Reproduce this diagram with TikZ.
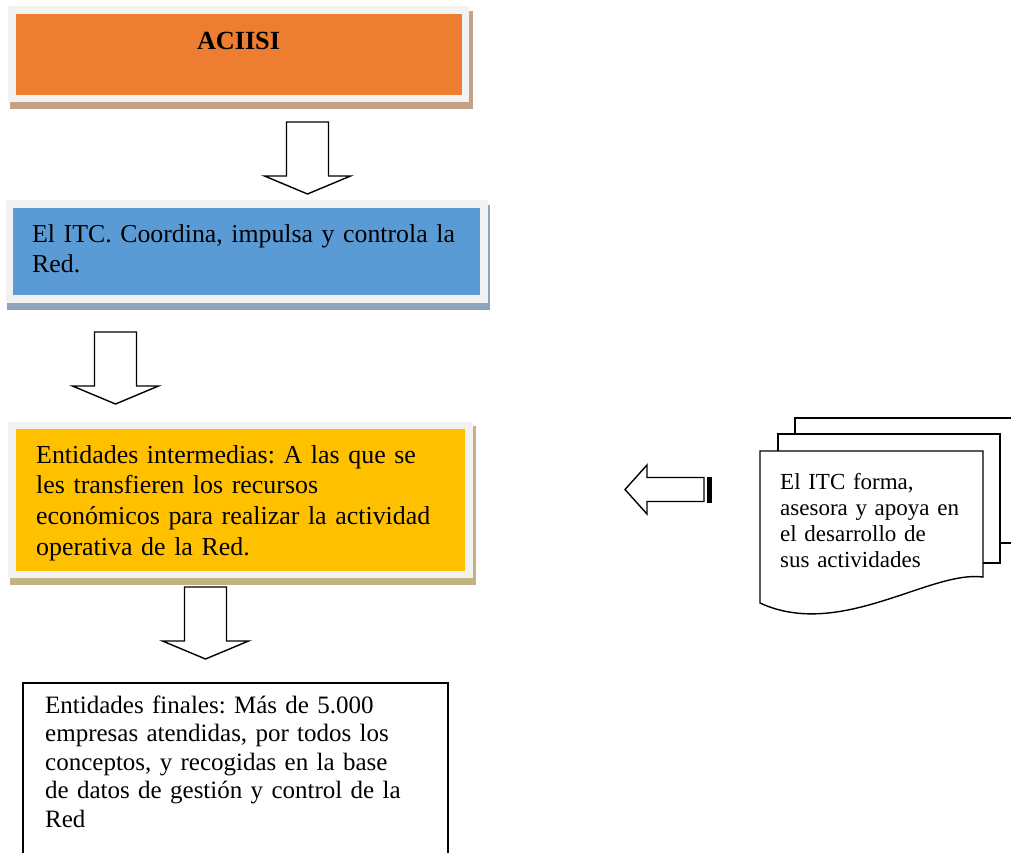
\documentclass[tikz,border=0pt]{standalone}
\usepackage{fontspec}
\setmainfont{Liberation Serif}
\frenchspacing
\definecolor{aorange}{HTML}{ED7D31}
\definecolor{ablue}{HTML}{5B9BD5}
\definecolor{ayellow}{HTML}{FFC000}
\definecolor{aframe}{HTML}{F2F2F2}
\definecolor{shbrown}{HTML}{C4A189}
\definecolor{shblue}{HTML}{8EA4BC}
\definecolor{shtan}{HTML}{C3B283}
\begin{document}
\begin{tikzpicture}[x=1pt,y=-1pt,
  panel/.style={draw=aframe, line width=7.5pt, inner sep=0pt, outer sep=0pt},
  shadowbox/.style={inner sep=0pt, outer sep=0pt},
  plainbox/.style={draw=black, line width=1.4pt, fill=white, inner sep=0pt},
  blockline/.style={draw=black, line width=1.4pt, fill=white, line join=miter},
  boxtext/.style={anchor=base west, inner sep=0pt, text width=#1, align=left},
  pagestyle/.style={draw=black, line width=1.4pt, fill=white, line join=miter},
  downblock/.pic={\draw[blockline] (-21,0) -- (-21,54) -- (-43,54) -- (0,72) -- (43,54) -- (21,54) -- (21,0) -- cycle;}
]
\useasboundingbox (0,0) rectangle (1011,852);
\clip (0,0) rectangle (1011,852);
\fill[white] (0,0) rectangle (1011,852);

% ACIISI
\node[shadowbox, fill=shbrown, minimum width=463pt, minimum height=98pt] (aciisi-sh) at (241.5,60) {};
\node[panel, fill=aorange, minimum width=453.5pt, minimum height=88.5pt] (aciisi) at (238.75,54.25) {};
\node[anchor=base, inner sep=0pt, font=\fontsize{26.2}{30}\selectfont\bfseries] (aciisi-t) at (238.5,49) {ACIISI};

\pic at (307.5,122) {downblock};

% ITC
\node[shadowbox, fill=shblue, minimum width=483pt, minimum height=105pt] (itc-sh) at (248.5,257.5) {};
\node[panel, fill=ablue, minimum width=474.5pt, minimum height=95pt] (itc) at (246.75,251.5) {};
\node[boxtext=450pt, font=\fontsize{25.8}{30}\selectfont] (itc-t) at (32,242) {El ITC. Coordina, impulsa y controla la\\Red.};

\pic at (115.5,332) {downblock};

% Entidades intermedias
\node[shadowbox, fill=shtan, minimum width=466pt, minimum height=159pt] (inter-sh) at (243,505.5) {};
\node[panel, fill=ayellow, minimum width=457pt, minimum height=149pt] (inter) at (240.5,500) {};
\node[boxtext=430pt, font=\fontsize{25.9}{30.7}\selectfont] (inter-t) at (36,463) {Entidades intermedias: A las que se\\les transfieren los recursos\\económicos para realizar la actividad\\operativa de la Red.};

\pic at (205.5,587) {downblock};

% Entidades finales
\node[plainbox, minimum width=425pt, minimum height=217pt] (final) at (235.5,791.5) {};
\node[boxtext=400pt, font=\fontsize{25}{28.5}\selectfont] (final-t) at (45,713) {Entidades finales: Más de 5.000\\empresas atendidas, por todos los\\conceptos, y recogidas en la base\\de datos de gestión y control de la\\Red};

% multi-document
\draw[pagestyle] (795,434) -- (795,418) -- (1018,418) -- (1018,543) -- (1000,543);
\draw[pagestyle] (778,451) -- (778,434) -- (1000,434) -- (1000,563) -- (983,563);
\draw[pagestyle] (760,451) -- (983,451) -- (983,577)
  .. controls (930,570) and (840,640) .. (760,603) -- cycle;
\node[boxtext=200pt, font=\fontsize{23}{26}\selectfont] (doc-t) at (780,489) {El ITC forma,\\asesora y apoya en\\el desarrollo de\\sus actividades};

% left striped arrow
\draw[blockline] (625,489.5) -- (647,465) -- (647,477.5) -- (704,477.5) -- (704,501.5) -- (647,501.5) -- (647,514) -- cycle;
\fill[black] (707,477) rectangle (712,503);
\end{tikzpicture}
\end{document}
